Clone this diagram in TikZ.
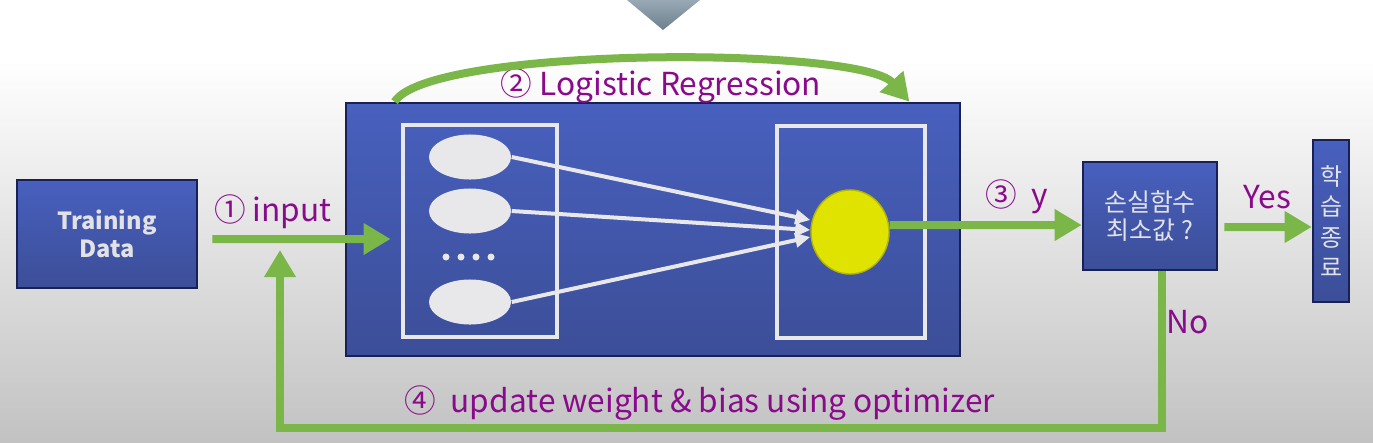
\documentclass[tikz,border=0pt]{standalone}
\usepackage{fontspec}
\setmainfont{Noto Sans CJK KR}
\usetikzlibrary{positioning, arrows.meta, shapes.geometric}
\definecolor{box_top}{RGB}{72, 96, 190}
\definecolor{box_bottom}{RGB}{60, 78, 152}
\definecolor{box_border}{RGB}{24, 32, 84}
\definecolor{box_text}{RGB}{226, 226, 230}
\definecolor{arrow_green}{RGB}{122, 182, 72}
\definecolor{label_purple}{RGB}{138, 10, 140}
\definecolor{unit_grey}{RGB}{232, 232, 234}
\definecolor{neuron_yellow}{RGB}{224, 226, 0}
\definecolor{bg_bottom}{RGB}{194, 194, 194}
\definecolor{tri_top}{RGB}{152, 168, 180}
\definecolor{tri_bottom}{RGB}{110, 128, 142}
\tikzstyle{box}=[draw=box_border, line width=0.025cm, top color=box_top, bottom color=box_bottom, text=box_text, inner sep=0pt, align=center]
\tikzstyle{layer}=[draw=unit_grey, line width=0.04cm, inner sep=0pt]
\tikzstyle{unit}=[ellipse, fill=unit_grey, minimum width=0.82cm, minimum height=0.45cm, inner sep=0pt]
\tikzstyle{purpletext}=[text=label_purple, font=\fontsize{9}{11}\selectfont, inner sep=0pt]
\tikzstyle{greenarrow}=[draw=arrow_green, line width=0.08cm, -{Triangle[length=0.27cm, width=0.3cm]}]
\tikzstyle{whitearrow}=[draw=unit_grey, line width=0.04cm, -{Triangle[length=0.15cm, width=0.14cm]}]

\begin{document}
\begin{tikzpicture}[x=0.01cm, y=-0.01cm]
    \useasboundingbox (0,0) rectangle (1373,442);
    \fill[white] (0,0) rectangle (1373,60);
    \shade[top color=white, bottom color=bg_bottom] (0,60) rectangle (1373,442);
    \shade[top color=tri_top, bottom color=tri_bottom] (627,0) -- (700,0) -- (663,30) -- cycle;

    \node[box, minimum width=1.8cm, minimum height=1.08cm, font=\bfseries\fontsize{6.7}{8}\selectfont] (data) at (107,234) {Training\\Data};
    \node[box, minimum width=6.14cm, minimum height=2.53cm] (lr) at (653,229.5) {};
    \node[layer, minimum width=1.53cm, minimum height=2.12cm] (inlayer) at (480,231) {};
    \node[layer, minimum width=1.47cm, minimum height=2.11cm] (outlayer) at (851,232) {};
    \node[unit] (x1) at (470,157) {};
    \node[unit] (x2) at (470,211) {};
    \node[unit] (xn) at (470,302) {};
    \foreach \i in {0,...,3}
        \fill[unit_grey] (446+15*\i,257) circle (0.035cm);
    \node[ellipse, fill=neuron_yellow, draw=neuron_yellow!80!black, thin, minimum width=0.78cm, minimum height=0.84cm, inner sep=0pt] (out) at (850,232) {};
    \node[box, minimum width=1.34cm, minimum height=1.08cm, font=\fontsize{7.1}{8.2}\selectfont] (loss) at (1150,216) {손실함수\\최소값 ?};
    \node[box, minimum width=0.36cm, minimum height=1.62cm, font=\fontsize{6.8}{8.6}\selectfont] (done) at (1331,221) {학\\습\\종\\료};

    \node[purpletext] (input) at (273,212) {① input};
    \node[purpletext] (model) at (661,86) {② Logistic Regression};
    \node[purpletext] (yout) at (1017,197) {③\ \ y};
    \node[purpletext] (yes) at (1267,197) {Yes};
    \node[purpletext] (no) at (1188,322) {No};
    \node[purpletext] (update) at (700,403) {④\ \ update weight \& bias using optimizer};

    \draw[whitearrow] (x1.east) -- ([yshift=0.12cm]out.west);
    \draw[whitearrow] (x2.east) -- ([yshift=0.02cm]out.west);
    \draw[whitearrow] (xn.east) -- ([yshift=-0.05cm]out.west);

    \draw[greenarrow] ([xshift=0.14cm, yshift=-0.05cm]data.east) -- ([xshift=0.46cm, yshift=-0.095cm]lr.west);
    \draw[greenarrow] ([xshift=0.5cm]lr.north west) .. controls (430,46) and (860,46) .. ([xshift=-0.52cm]lr.north east);
    \draw[greenarrow] ([yshift=0.07cm]out.east) -- ([yshift=-0.09cm]loss.west);
    \draw[greenarrow] ([xshift=0.06cm, yshift=-0.11cm]loss.east) -- ([yshift=-0.06cm]done.west);
    \coordinate (fb) at (280,428);
    \coordinate (fbtip) at (280,250);
    \draw[greenarrow] ([xshift=0.12cm]loss.south) |- (fb) -- (fbtip);
\end{tikzpicture}
\end{document}
